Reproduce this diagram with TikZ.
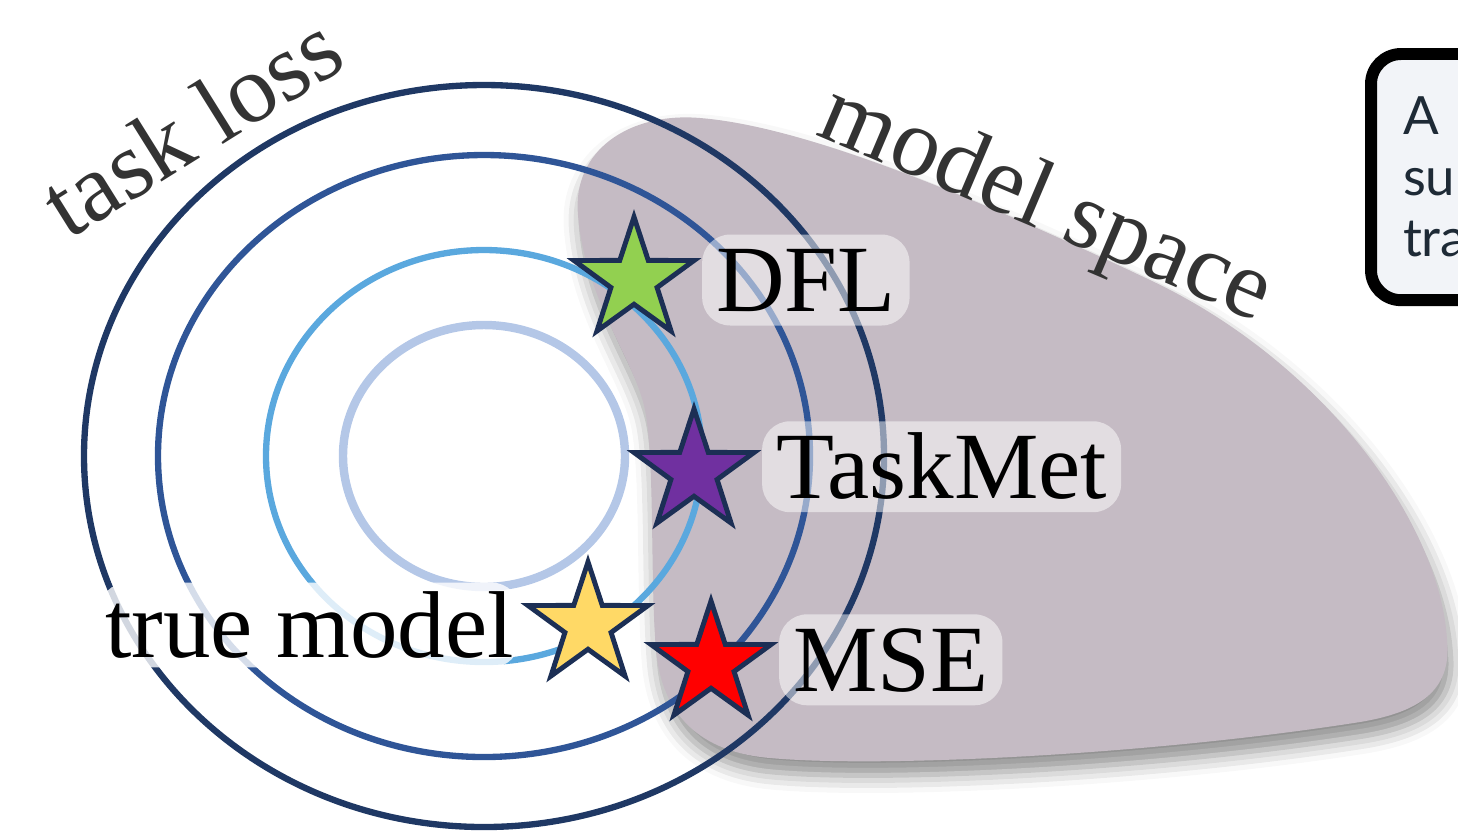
\documentclass[tikz,border=0pt]{standalone}
\usepackage{fontspec}
\setmainfont{Liberation Serif}
\newfontfamily\notefont{Lato}
\usepackage{tikz}
\usetikzlibrary{shapes.geometric,shadows.blur}
\definecolor{lossA}{HTML}{1F3864}
\definecolor{lossB}{HTML}{2F5597}
\definecolor{lossC}{HTML}{5AA8DE}
\definecolor{lossD}{HTML}{B4C7E7}
\definecolor{blobgrey}{HTML}{C5BBC4}
\definecolor{starline}{HTML}{1C2F55}
\definecolor{inkgrey}{HTML}{333333}
\definecolor{noteface}{HTML}{F2F4F8}
\definecolor{notetext}{HTML}{1E2A36}
\tikzset{
    ring/.style={line width=1.8pt},
    mstar/.style={star,star points=5,star point ratio=2.6,minimum size=1.26cm,inner sep=0pt,draw=starline,line width=1.4pt},
    tag/.style={fill=white,fill opacity=.5,text opacity=1,rounded corners=.28cm,inner xsep=.14cm,inner ysep=.14cm,
        text height=17.9pt,text depth=0pt,font=\fontsize{27}{30}\selectfont},
    axislabel/.style={text=inkgrey,font=\fontsize{27.5}{32}\selectfont,anchor=base,inner sep=0pt},
    region/.style={fill=blobgrey,blur shadow={shadow xshift=1pt,shadow yshift=-4pt,shadow blur radius=5pt,shadow opacity=45}},
    notebox/.style={draw=black,line width=3.4pt,fill=noteface,rounded corners=.3cm,anchor=north west,outer sep=0pt,
        inner xsep=.32cm,minimum width=3cm,text width=2.36cm,minimum height=2.46cm,align=left,
        text=notetext,font=\notefont\fontsize{15}{17.4}\selectfont},
}

\begin{document}
\begin{tikzpicture}[x=0.01cm,y=-0.01cm]
    \useasboundingbox (0,0) rectangle (1458,832);
    \clip (0,0) rectangle (1458,832);

    % model space
    \fill[region] (578,215) .. controls (572,150) and (630,112) .. (700,118)
        .. controls (800,126) and (960,190) .. (1150,280)
        .. controls (1320,360) and (1440,520) .. (1447,640)
        .. controls (1452,690) and (1420,712) .. (1360,722)
        .. controls (1150,755) and (880,768) .. (770,758)
        .. controls (700,752) and (662,715) .. (656,650)
        .. controls (650,580) and (655,460) .. (645,410)
        .. controls (635,360) and (585,300) .. (578,215) -- cycle;

    % task loss level sets
    \coordinate (c) at (484,456);
    \draw[ring,lossA] (c) ellipse [x radius=400,y radius=371];
    \draw[ring,lossB] (c) ellipse [x radius=326,y radius=301];
    \draw[ring,lossC] (c) ellipse [x radius=218,y radius=206];
    \draw[ring,lossD,line width=2.4pt] (c) ellipse [x radius=141,y radius=131];

    \node[axislabel,rotate=32] (taskloss) at (209,153) {task loss};
    \node[axislabel,rotate=-23] (modelspace) at (1036,228) {model space};

    % models
    \node[mstar,fill={rgb,255:red,146;green,208;blue,80}] (dfl) at (634,280) {};
    \node[mstar,fill={rgb,255:red,112;green,48;blue,160}] (taskmet) at (694,472) {};
    \node[mstar,fill=red] (mse) at (711,664) {};
    \node[mstar,fill={rgb,255:red,255;green,217;blue,102}] (truth) at (588,625) {};

    \node[tag,anchor=west] (dfltag) at (dfl.outer point 5 |- dfl.center) {DFL};
    \node[tag,anchor=west,yshift=1.5pt] (taskmettag) at (taskmet.outer point 5 |- taskmet.center) {TaskMet};
    \node[tag,anchor=west,yshift=1.2pt] (msetag) at (mse.outer point 5 |- mse.center) {MSE};
    \node[tag,anchor=east,fill opacity=.8,inner xsep=.06cm,inner ysep=.1cm,text height=18.4pt] (truthtag)
        at (truth.outer point 2 |- truth.center) {true model};

    \node[notebox] (note) at (1371,54) {A\\su\\tra};
\end{tikzpicture}
\end{document}
